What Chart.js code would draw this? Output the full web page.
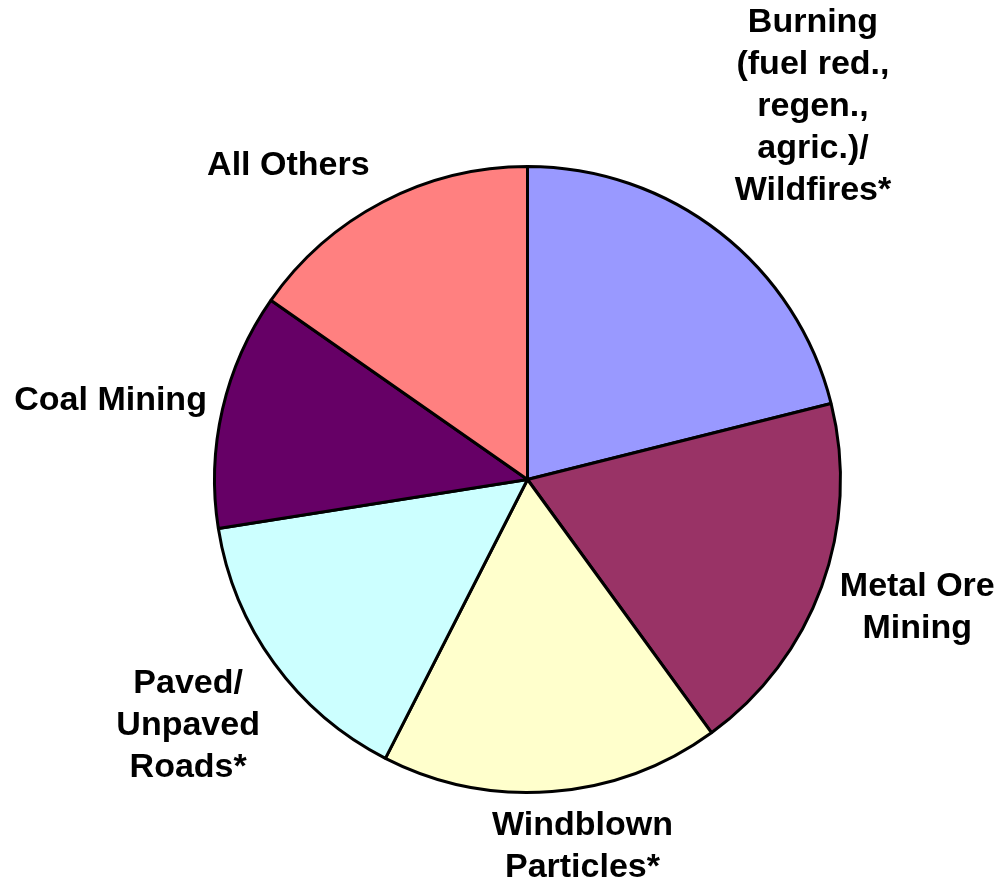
<!DOCTYPE html>
<html lang="en">
<head>
  <meta charset="UTF-8" />
  <title>Emission Sources</title>
  <script src="https://cdn.jsdelivr.net/npm/chart.js"></script>
  <style>
    html, body { margin: 0; padding: 0; background: #fff; }
    .chart-container { position: relative; width: 1000px; height: 892px; }
  </style>
</head>
<body>

  <div class="chart-container">
    <canvas id="pieChart"></canvas>
  </div>

  <script>
    // categories (one entry per slice, split into the lines shown on the chart)
    const categories = [
      ['Burning', '(fuel red.,', 'regen.,', 'agric.)/', 'Wildfires*'],
      ['Metal Ore', 'Mining'],
      ['Windblown', 'Particles*'],
      ['Paved/', 'Unpaved', 'Roads*'],
      ['Coal Mining'],
      ['All Others']
    ];
    // share of total, percent
    const shares = [21.1, 18.9, 17.5, 15.0, 12.2, 15.3];
    const sliceColors = ['#9999FF', '#993366', '#FFFFCC', '#CCFFFF', '#660066', '#FF8080'];

    // label placement tweaks, px (x, y) after the outside-of-pie rule
    const labelNudge = [[6, -15], [5, -12], [26, -1], [-3, 2], [-7, 15], [-77, -3]];
    const LABEL_FONT = 'bold 34px "Liberation Sans", Arial, sans-serif';
    const LINE_H = 42;
    const LABEL_GAP = 14;

    const outerLabels = {
      id: 'outerLabels',
      afterDraw(chart) {
        const ctx = chart.ctx;
        const meta = chart.getDatasetMeta(0);
        ctx.save();
        ctx.font = LABEL_FONT;
        ctx.fillStyle = '#000';
        ctx.textAlign = 'center';
        ctx.textBaseline = 'middle';
        meta.data.forEach((arc, i) => {
          const lines = categories[i];
          const p = arc.getProps(['x', 'y', 'startAngle', 'endAngle', 'outerRadius'], true);
          const mid = (p.startAngle + p.endAngle) / 2;
          const ux = Math.cos(mid), uy = Math.sin(mid);
          const w = Math.max(...lines.map(l => ctx.measureText(l).width));
          const h = lines.length * LINE_H;
          const ext = Math.min(w / 2 / Math.abs(ux), h / 2 / Math.abs(uy));
          const d = p.outerRadius + LABEL_GAP + ext;
          const cx = p.x + ux * d + labelNudge[i][0];
          const cy = p.y + uy * d + labelNudge[i][1];
          lines.forEach((line, k) => {
            ctx.fillText(line, cx, cy - h / 2 + LINE_H * (k + 0.5));
          });
        });
        ctx.restore();
      }
    };

    const ctx = document.getElementById('pieChart').getContext('2d');
    new Chart(ctx, {
      type: 'pie',
      data: {
        labels: categories,
        datasets: [{
          data: shares,
          backgroundColor: sliceColors,
          borderColor: '#000',
          borderWidth: 3
        }]
      },
      options: {
        responsive: true,
        maintainAspectRatio: false,
        animation: false,
        layout: {
          padding: { left: 213, right: 158, top: 165, bottom: 98 }
        },
        plugins: {
          legend: { display: false },
          tooltip: { enabled: false }
        }
      },
      plugins: [outerLabels]
    });
  </script>
</body>
</html>
